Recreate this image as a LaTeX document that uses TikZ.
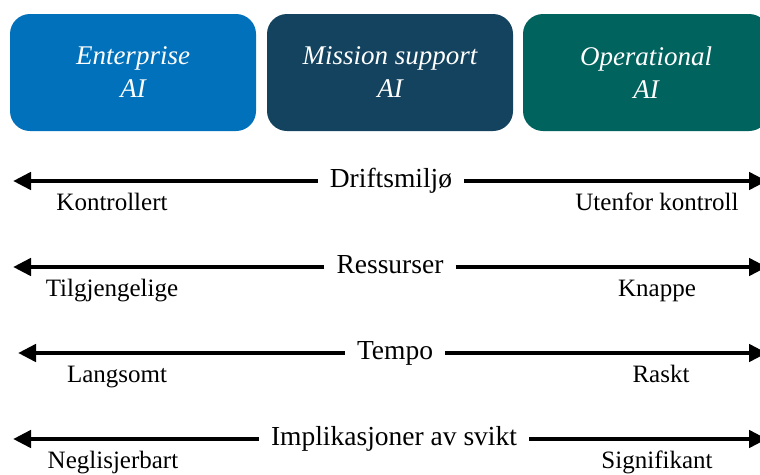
\documentclass[tikz,border=0pt]{standalone}
\usepackage{fontspec}
\setmainfont{Liberation Serif}
\usetikzlibrary{arrows.meta}
\definecolor{entblue}{RGB}{1,113,187}
\definecolor{misnavy}{RGB}{19,67,95}
\definecolor{opteal}{RGB}{0,99,94}
\begin{document}
\begin{tikzpicture}[x=1pt,y=-1pt,
  catbox/.style={rounded corners=20pt, minimum width=246pt, minimum height=117pt,
    text=white, align=center, font=\fontsize{27}{33}\selectfont\itshape, inner sep=0pt},
  dimlabel/.style={fill=white, inner xsep=12pt, inner ysep=2pt, text height=19pt, text depth=6pt,
    font=\fontsize{27.5}{30}\selectfont},
  endlabel/.style={anchor=base, font=\fontsize{25}{30}\selectfont, inner sep=0pt},
  dimarrow/.style={line width=4.5pt, -{Triangle[length=18pt,width=17pt]}}
]
\clip (0,0) rectangle (760,474);
\useasboundingbox (0,0) rectangle (760,474);
\fill[white] (0,0) rectangle (760,474);

\node[catbox, fill=entblue] (b1) at (133,72.5) {Enterprise\\AI};
\node[catbox, fill=misnavy] (b2) at (390,72.5) {Mission support\\AI};
\node[catbox, fill=opteal] (b3) at (646,72.5) {Operational\\AI};

% row 1
\node[dimlabel] (d1) at (391,181) {Driftsmiljø};
\coordinate (l1) at (13,181);
\coordinate (r1) at (767,181);
\draw[dimarrow] (d1.west) -- (l1);
\draw[dimarrow] (d1.east) -- (r1);
\node[endlabel] (a1) at (112,210) {Kontrollert};
\node[endlabel] (z1) at (657,210) {Utenfor kontroll};

% row 2
\node[dimlabel] (d2) at (390,267) {Ressurser};
\coordinate (l2) at (13,267);
\coordinate (r2) at (767,267);
\draw[dimarrow] (d2.west) -- (l2);
\draw[dimarrow] (d2.east) -- (r2);
\node[endlabel] (a2) at (112,296) {Tilgjengelige};
\node[endlabel] (z2) at (657,296) {Knappe};

% row 3
\node[dimlabel] (d3) at (395,353) {Tempo};
\coordinate (l3) at (18,353);
\coordinate (r3) at (767,353);
\draw[dimarrow] (d3.west) -- (l3);
\draw[dimarrow] (d3.east) -- (r3);
\node[endlabel] (a3) at (117,382) {Langsomt};
\node[endlabel] (z3) at (661,382) {Raskt};

% row 4
\node[dimlabel] (d4) at (394,439) {Implikasjoner av svikt};
\coordinate (l4) at (13,439);
\coordinate (r4) at (767,439);
\draw[dimarrow] (d4.west) -- (l4);
\draw[dimarrow] (d4.east) -- (r4);
\node[endlabel] (a4) at (113,468) {Neglisjerbart};
\node[endlabel] (z4) at (657,468) {Signifikant};
\end{tikzpicture}
\end{document}
